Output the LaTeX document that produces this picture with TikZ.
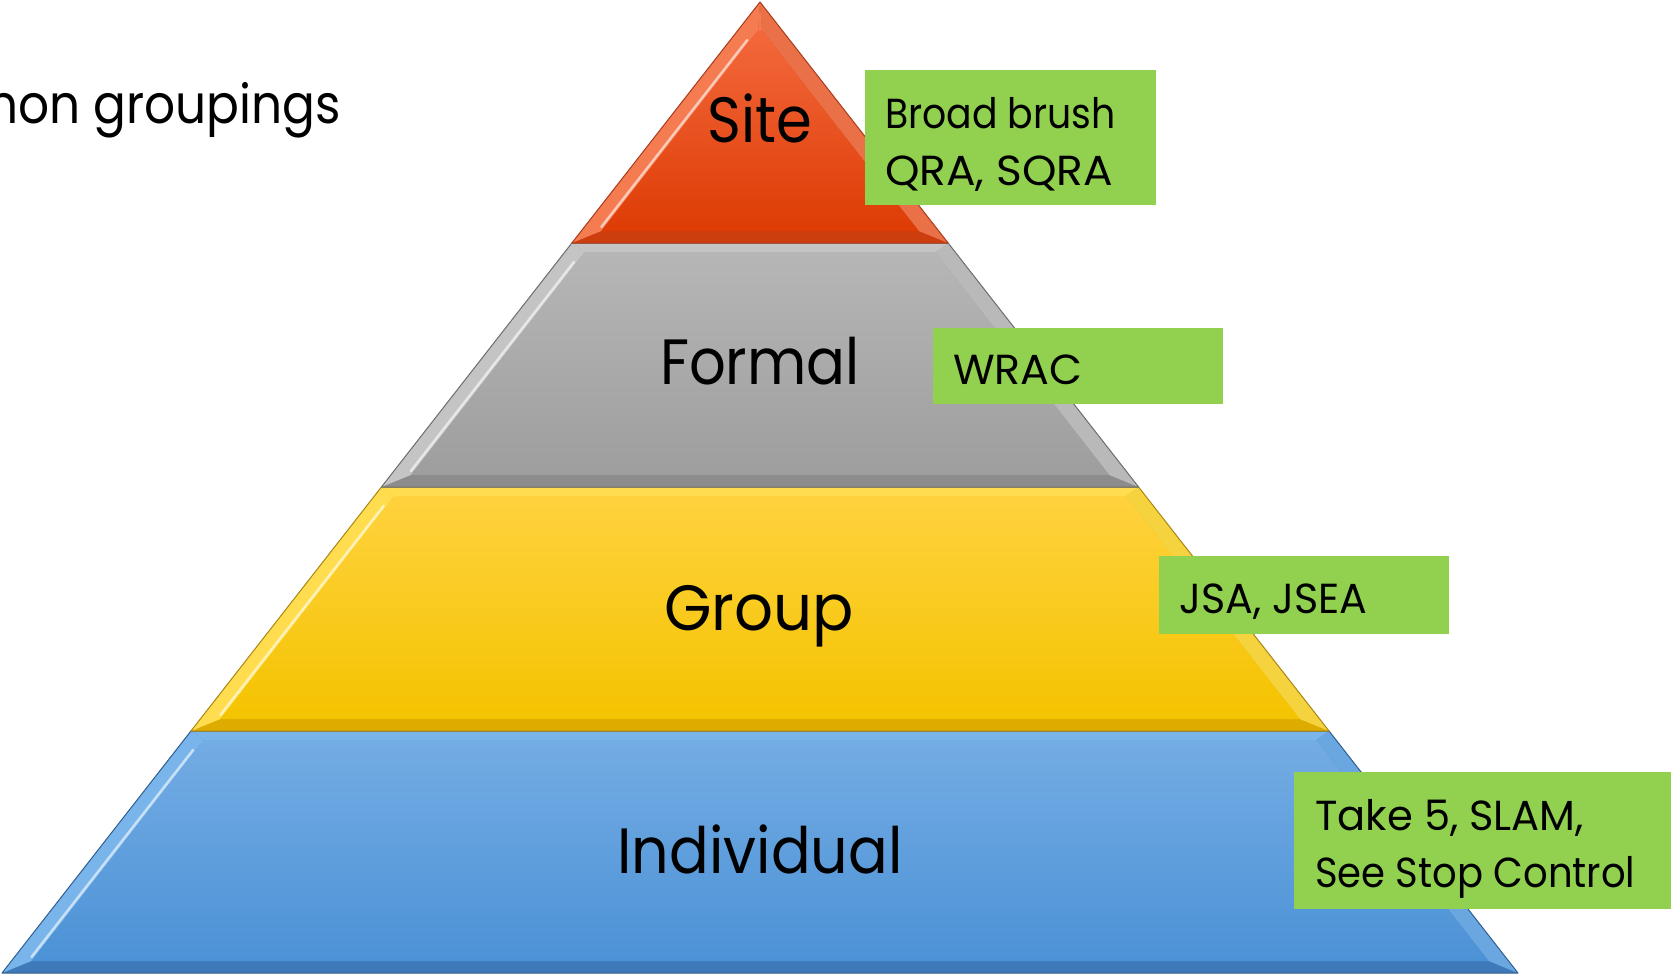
\documentclass[tikz,border=0pt]{standalone}
\usepackage{graphicx}
\usepackage{fontspec}
\setmainfont{Poppins}
\newfontfamily\lblfont[FakeStretch=0.9]{Poppins}
\newcommand\hsc[2]{\scalebox{#1}[1]{#2}}
\definecolor{siteTop}{RGB}{243,104,60}
\definecolor{siteBot}{RGB}{222,60,5}
\definecolor{siteLight}{RGB}{247,135,95}
\definecolor{siteDark}{RGB}{205,62,15}
\definecolor{siteEdge}{RGB}{170,60,30}
\definecolor{formTop}{RGB}{182,182,182}
\definecolor{formBot}{RGB}{158,158,158}
\definecolor{formLight}{RGB}{205,205,205}
\definecolor{formDark}{RGB}{140,140,140}
\definecolor{formEdge}{RGB}{110,110,110}
\definecolor{grpTop}{RGB}{255,210,62}
\definecolor{grpBot}{RGB}{244,195,0}
\definecolor{grpLight}{RGB}{255,228,90}
\definecolor{grpDark}{RGB}{222,172,0}
\definecolor{grpEdge}{RGB}{170,135,20}
\definecolor{indTop}{RGB}{116,172,228}
\definecolor{indBot}{RGB}{76,146,214}
\definecolor{indLight}{RGB}{125,185,240}
\definecolor{indDark}{RGB}{62,122,185}
\definecolor{indEdge}{RGB}{50,95,145}
\definecolor{boxGreen}{RGB}{146,208,80}
\newcommand\pyrlayer[7]{%
  \pgfmathsetmacro\pyXlt{760-0.7806*(#1-2)}%
  \pgfmathsetmacro\pyXrt{760+0.7806*(#1-2)}%
  \pgfmathsetmacro\pyXlb{760-0.7806*(#2-2)}%
  \pgfmathsetmacro\pyXrb{760+0.7806*(#2-2)}%
  \pgfmathsetmacro\pyYti{max(#1+9,30)}%
  \pgfmathsetmacro\pyYbi{#2-12}%
  \pgfmathsetmacro\pyIlt{760-0.7806*(\pyYti-2)+20}%
  \pgfmathsetmacro\pyIrt{760+0.7806*(\pyYti-2)-20}%
  \pgfmathsetmacro\pyIlb{760-0.7806*(\pyYbi-2)+20}%
  \pgfmathsetmacro\pyIrb{760+0.7806*(\pyYbi-2)-20}%
  \pgfmathsetmacro\pyHa{\pyYti+10}%
  \pgfmathsetmacro\pyHb{\pyYbi-4}%
  \pgfmathsetmacro\pyHxa{760-0.7806*(\pyHa-2)+17}%
  \pgfmathsetmacro\pyHxb{760-0.7806*(\pyHb-2)+17}%
  \fill[#6] (\pyXlt,#1) -- (\pyXrt,#1) -- (\pyXrb,#2) -- (\pyXlb,#2) -- cycle;
  \fill[#5!60!#3] (\pyXlt,#1) -- (\pyIlt,\pyYti) -- (\pyIlb,\pyYbi) -- (\pyXlb,#2) -- cycle;
  \fill[#5!70!#6] (\pyXrt,#1) -- (\pyIrt,\pyYti) -- (\pyIrb,\pyYbi) -- (\pyXrb,#2) -- cycle;
  \fill[#5!60!#3] (\pyXlt,#1) -- (\pyXrt,#1) -- (\pyIrt,\pyYti) -- (\pyIlt,\pyYti) -- cycle;
  \shade[top color=#3, bottom color=#4] (\pyIlt,\pyYti) -- (\pyIrt,\pyYti) -- (\pyIrb,\pyYbi) -- (\pyIlb,\pyYbi) -- cycle;
  \draw[white, opacity=0.6, line width=2.5pt, line cap=round] (\pyHxb,\pyHb) -- (\pyHxa,\pyHa);
  \draw[#7, line width=1pt, line join=round] (\pyXlt,#1) -- (\pyXrt,#1) -- (\pyXrb,#2) -- (\pyXlb,#2) -- cycle;
}
\begin{document}
\begin{tikzpicture}[x=1pt,y=-1pt,
  lbl/.style={font=\lblfont\fontsize{64}{70}\selectfont, text=black, inner sep=0pt, anchor=base},
  gbox/.style={fill=boxGreen, draw=none, inner sep=0pt, anchor=north west},
  gtext/.style={font=\lblfont\fontsize{42}{50}\selectfont, text=black, inner sep=0pt, anchor=base west},
  ttl/.style={font=\lblfont\fontsize{54}{60}\selectfont, text=black, inner sep=0pt, anchor=base east}]
\useasboundingbox (0,0) rectangle (1673,975);
\fill[white] (0,0) rectangle (1673,975);
\begin{scope}
\clip (0,0) rectangle (1673,975);
\node[ttl] (title) at (341,123) {Common groupings};
\end{scope}
% pyramid layers (bottom up)
\pyrlayer{731}{973}{indTop}{indBot}{indLight}{indDark}{indEdge}
\pyrlayer{487}{731}{grpTop}{grpBot}{grpLight}{grpDark}{grpEdge}
\pyrlayer{243}{487}{formTop}{formBot}{formLight}{formDark}{formEdge}
\pyrlayer{2}{243}{siteTop}{siteBot}{siteLight}{siteDark}{siteEdge}
% layer labels
\node[lbl] (site) at (760,142) {Site};
\node[lbl] (formal) at (760,384) {Formal};
\node[lbl] (group) at (759,630) {\hsc{1.06}{Group}};
\node[lbl] (indiv) at (760,873) {\hsc{1.02}{Individual}};
% green boxes
\node[gbox, minimum width=291pt, minimum height=135pt] (b1) at (865,70) {};
\node[gbox, minimum width=290pt, minimum height=76pt] (b2) at (933,328) {};
\node[gbox, minimum width=290pt, minimum height=78pt] (b3) at (1159,556) {};
\node[gbox, minimum width=377pt, minimum height=137pt] (b4) at (1294,772) {};
\node[gtext] (t1a) at (885,128) {Broad brush};
\node[gtext] (t1b) at (885,185) {\hsc{1.16}{QRA, SQRA}};
\node[gtext] (t2) at (953,384) {\hsc{1.13}{WRAC}};
\node[gtext] (t3) at (1179,613) {\hsc{1.09}{JSA, JSEA}};
\node[gtext] (t4a) at (1315,830) {\hsc{1.10}{Take 5, SLAM,}};
\node[gtext] (t4b) at (1315,887) {\hsc{1.02}{See Stop Control}};
\end{tikzpicture}
\end{document}
